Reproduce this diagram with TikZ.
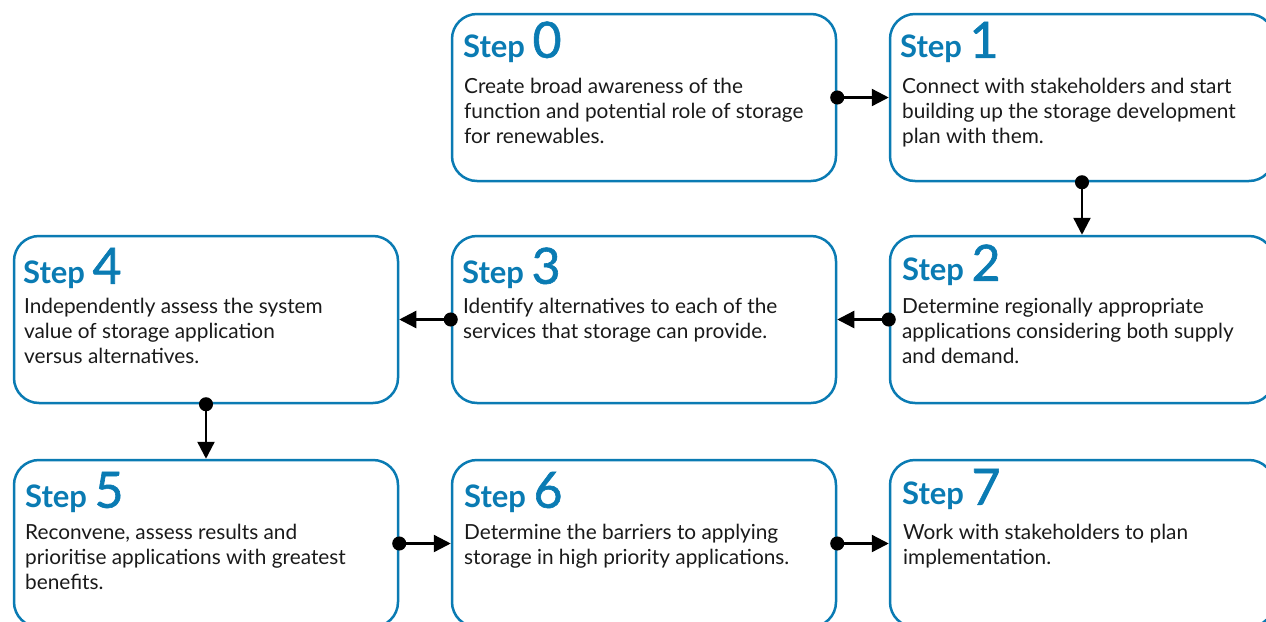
\documentclass[tikz,border=0pt]{standalone}
\usepackage{fontspec}
\setmainfont{Lato}
\newfontfamily\digitfont{Lato}[FakeBold=1.2]
\usepackage{xcolor}
\usepackage{tikz}
\usetikzlibrary{calc,arrows.meta}
\definecolor{stepblue}{HTML}{0A7BB3}
\definecolor{ink}{HTML}{1A1A1A}
\newcommand{\stepnum}[1]{{\digitfont\fontsize{25}{25}\selectfont\mdseries #1}}
\tikzset{
  stepbox/.style={draw=stepblue, line width=1.25pt, rounded corners=12.5pt,
    minimum width=192pt, minimum height=83.5pt, inner sep=0pt},
  steptitle/.style={anchor=base west, inner sep=0pt, text=stepblue,
    font=\fontsize{15.5}{15.5}\selectfont\bfseries},
  stepdesc/.style={anchor=north west, inner sep=0pt, align=left, text=ink,
    font=\fontsize{10.4}{12.5}\selectfont},
  link/.style={line width=1.2pt, {Circle[length=7pt]}-{Triangle[length=8.5pt,width=8.5pt]},
    shorten <=-3.5pt}
}

\begin{document}
\begin{tikzpicture}[x=0.5pt,y=-0.5pt]
  \useasboundingbox (0,0) rectangle (1266,622);
  \clip (0,0) rectangle (1266,622);
  % boxes
  \node[stepbox] (b0) at (644,97.5) {};
  \node[stepbox] (b1) at (1082,97.5) {};
  \node[stepbox] (b2) at (1082,319.5) {};
  \node[stepbox] (b3) at (644,319.5) {};
  \node[stepbox] (b4) at (206,319.5) {};
  \node[stepbox] (b5) at (206,543.5) {};
  \node[stepbox] (b6) at (644,543.5) {};
  \node[stepbox] (b7) at (1082,543.5) {};
  % titles
  \node[steptitle] (t0) at ($(b0.north west)+(12,45)$) {Step \stepnum{0}};
  \node[steptitle] (t1) at ($(b1.north west)+(11,45)$) {Step \stepnum{1}};
  \node[steptitle] (t2) at ($(b2.north west)+(13,46)$) {Step \stepnum{2}};
  \node[steptitle] (t3) at ($(b3.north west)+(11,49)$) {Step \stepnum{3}};
  \node[steptitle] (t4) at ($(b4.north west)+(10,49)$) {Step \stepnum{4}};
  \node[steptitle] (t5) at ($(b5.north west)+(12,49)$) {Step \stepnum{5}};
  \node[steptitle] (t6) at ($(b6.north west)+(13,49)$) {Step \stepnum{6}};
  \node[steptitle] (t7) at ($(b7.north west)+(13,46)$) {Step \stepnum{7}};
  % descriptions
  \node[stepdesc] (d0) at ($(b0.north west)+(13,65)$)
    {Create broad awareness of the\\function and potential role of storage\\for renewables.};
  \node[stepdesc] (d1) at ($(b1.north west)+(13,65)$)
    {Connect with stakeholders and start\\building up the storage development\\plan with them.};
  \node[stepdesc] (d2) at ($(b2.north west)+(13,63)$)
    {Determine regionally appropriate\\applications considering both supply\\and demand.};
  \node[stepdesc] (d3) at ($(b3.north west)+(12,63)$)
    {Identify alternatives to each of the\\services that storage can provide.};
  \node[stepdesc] (d4) at ($(b4.north west)+(11,63)$)
    {Independently assess the system\\value of storage application\\versus alternatives.};
  \node[stepdesc] (d5) at ($(b5.north west)+(12,65)$)
    {Reconvene, assess results and\\prioritise applications with greatest\\benefits.};
  \node[stepdesc] (d6) at ($(b6.north west)+(13,65)$)
    {Determine the barriers to applying\\storage in high priority applications.};
  \node[stepdesc] (d7) at ($(b7.north west)+(14,65)$)
    {Work with stakeholders to plan\\implementation.};
  % links
  \draw[link] (b0.east) -- (b1.west);
  \draw[link] (b1.south) -- (b2.north);
  \draw[link] (b2.west) -- (b3.east);
  \draw[link] (b3.west) -- (b4.east);
  \draw[link] (b4.south) -- (b5.north);
  \draw[link] (b5.east) -- (b6.west);
  \draw[link] (b6.east) -- (b7.west);
\end{tikzpicture}
\end{document}
